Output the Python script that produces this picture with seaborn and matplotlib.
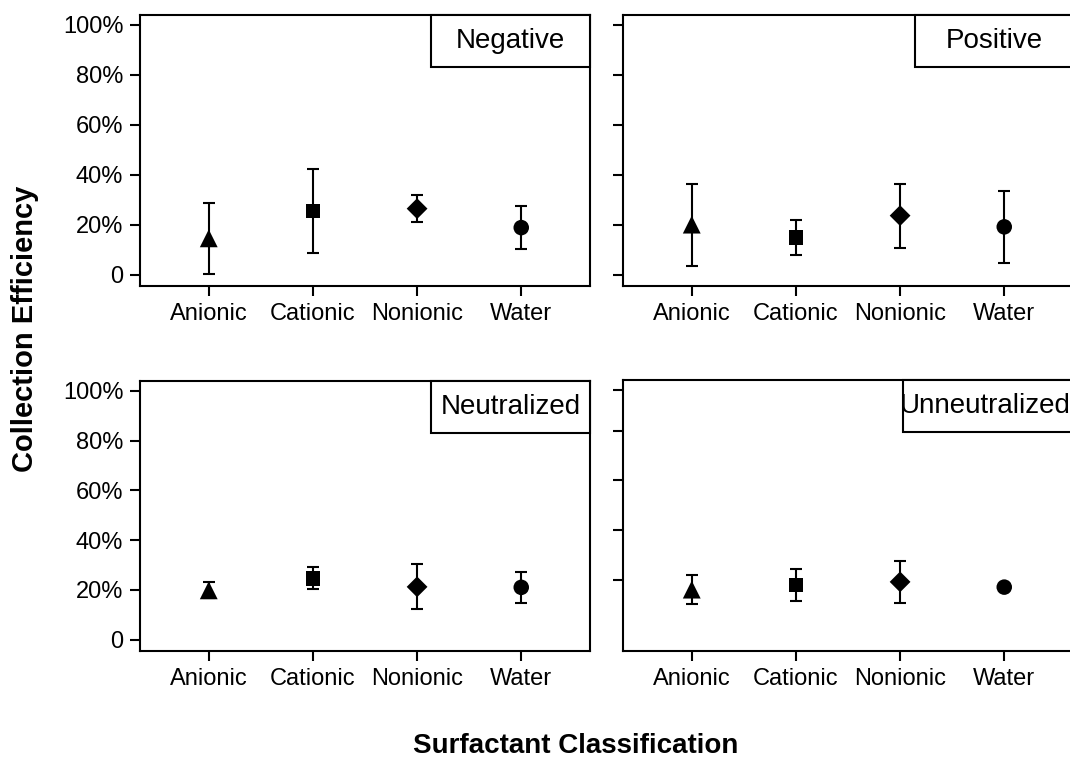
import numpy as np
import pandas as pd
import matplotlib
matplotlib.use("Agg")
import matplotlib.pyplot as plt
from matplotlib.patches import Rectangle
from matplotlib.ticker import FuncFormatter
import seaborn as sns

# ---------------- data ----------------
panels = ["Negative", "Positive", "Neutralized", "Unneutralized"]
categories = ["Anionic", "Cationic", "Nonionic", "Water"]

negative_mean = [14.5, 25.4, 26.4, 18.8]
negative_err = [14.3, 16.7, 5.3, 8.6]
positive_mean = [20.0, 14.8, 23.6, 19.1]
positive_err = [16.4, 6.9, 12.8, 14.3]
neutralized_mean = [19.8, 24.6, 21.2, 21.0]
neutralized_err = [3.2, 4.4, 9.0, 6.3]
unneutralized_mean = [20.0, 21.8, 23.1, 21.0]
unneutralized_err = [5.9, 6.3, 8.4, 0.0]

ytick_values = [0, 20, 40, 60, 80, 100]
ytick_values_br = [24, 44, 64, 83.5, 100]

means = [negative_mean, positive_mean, neutralized_mean, unneutralized_mean]
errs = [negative_err, positive_err, neutralized_err, unneutralized_err]

rows = []
for p, m, e in zip(panels, means, errs):
    for c, mv, ev in zip(categories, m, e):
        rows.append({"panel": p, "category": c, "mean": mv, "err": ev})
df = pd.DataFrame(rows)

# ---------------- style ----------------
sns.set_style("ticks")
plt.rcParams["font.family"] = ["Liberation Sans", "DejaVu Sans"]
plt.rcParams["axes.linewidth"] = 1.5
plt.rcParams["text.color"] = "black"

fig = plt.figure(figsize=(10.7, 7.58), dpi=100)
W, H = 1070, 758

def ax_rect(l, r, t, b):
    return [l / W, 1 - b / H, (r - l) / W, (b - t) / H]

rects = [ax_rect(140, 590, 15, 286), ax_rect(623, 1073, 15, 286),
         ax_rect(140, 590, 381, 651), ax_rect(623, 1073, 380, 651)]
box_x = [0.647, 0.649, 0.647, 0.622]
text_x = [0.8235, 0.8245, 0.8235, 0.806]

markers = {"Anionic": "^", "Cationic": "s", "Nonionic": "D", "Water": "o"}
sizes = {"Anionic": 165, "Cationic": 108, "Nonionic": 112, "Water": 125}

fmt = FuncFormatter(lambda v, pos: "0" if v == 0 else f"{v:g}%")

for i, (p, rect) in enumerate(zip(panels, rects)):
    ax = fig.add_axes(rect)
    sub = df[df["panel"] == p].reset_index(drop=True)
    ax.errorbar(np.arange(len(sub)), sub["mean"], yerr=sub["err"], fmt="none",
                ecolor="black", elinewidth=1.5, capsize=4.5, capthick=1.5, zorder=2)
    sns.scatterplot(data=sub, x="category", y="mean", style="category",
                    markers=markers, size="category", sizes=sizes,
                    color="black", edgecolor="black", linewidth=0,
                    legend=False, ax=ax, zorder=3)
    ax.set_xlim(-0.66, 3.66)
    ax.set_ylim(-4.6, 104)
    ax.set_xlabel("")
    ax.set_ylabel("")
    ax.set_xticks(range(len(categories)))
    ax.set_xticklabels(categories)
    if i == 3:
        ax.set_yticks(ytick_values_br)
    else:
        ax.set_yticks(ytick_values)
    if i % 2 == 0:
        ax.yaxis.set_major_formatter(fmt)
    else:
        ax.set_yticklabels([])
    ax.tick_params(axis="both", length=7, width=1.5, labelsize=17,
                   color="black", labelcolor="black", pad=5)
    for s in ax.spines.values():
        s.set_visible(True)
        s.set_color("black")
        s.set_linewidth(1.5)
    bx = box_x[i]
    ax.add_patch(Rectangle((bx, 0.808), 1 - bx, 0.192, transform=ax.transAxes,
                           facecolor="white", edgecolor="black", linewidth=1.5,
                           zorder=5, clip_on=False))
    ax.text(text_x[i], 0.904, p, transform=ax.transAxes, ha="center",
            va="center", fontsize=20, color="black", zorder=6)

fig.text(25 / W, 1 - 329 / H, "Collection Efficiency", rotation=90,
         ha="center", va="center", fontsize=21, fontweight="bold", color="black")
fig.text(576 / W, 1 - 753 / H, "Surfactant Classification", ha="center",
         va="baseline", fontsize=20, fontweight="bold", color="black")

fig.savefig("out.png", dpi=100)
